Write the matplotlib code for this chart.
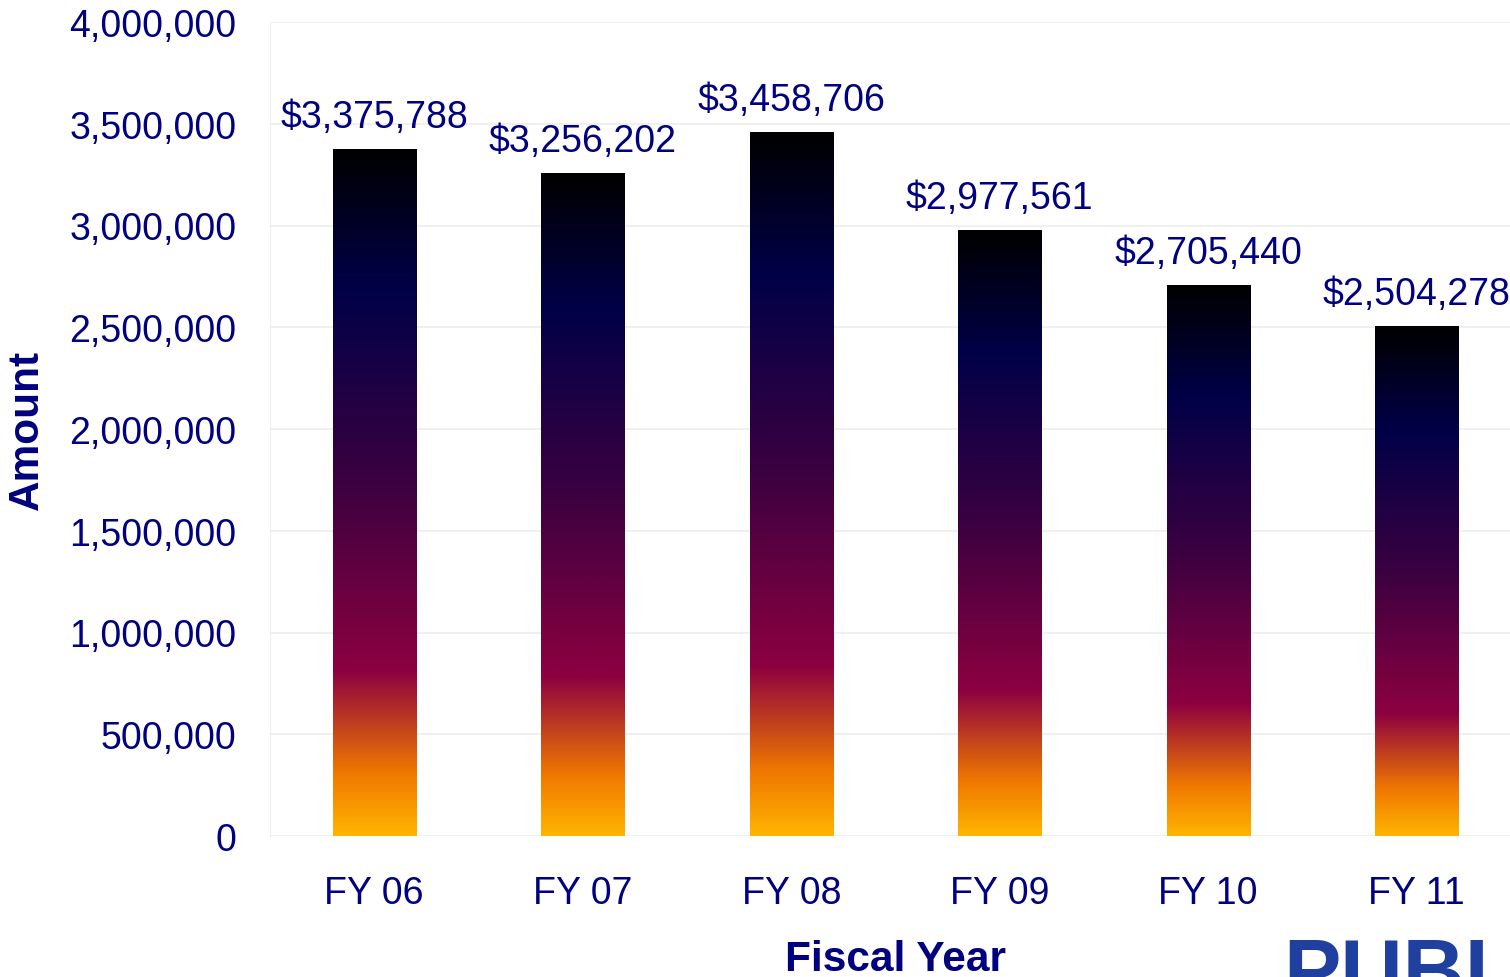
import numpy as np
import matplotlib.pyplot as plt
from matplotlib.colors import LinearSegmentedColormap

years = ['FY 06', 'FY 07', 'FY 08', 'FY 09', 'FY 10', 'FY 11']
amounts = [3375788, 3256202, 3458706, 2977561, 2705440, 2504278]
yticks = [0, 500000, 1000000, 1500000, 2000000, 2500000, 3000000, 3500000, 4000000]

navy = '#000080'
plt.rcParams['font.family'] = ['Liberation Sans', 'DejaVu Sans']

# bottom -> top gradient like the excel fill
grad = LinearSegmentedColormap.from_list('fill', [
    (0.0, '#ffb400'),
    (0.09, '#f07800'),
    (0.24, '#8c0040'),
    (0.52, '#3a0040'),
    (0.80, '#000048'),
    (1.0, '#000000'),
])

fig = plt.figure(figsize=(15.1, 9.78), dpi=100)
ax = fig.add_axes([270 / 1510, 1 - 837 / 978, 1251 / 1510, 814 / 978])

x = np.arange(len(years))
bars = ax.bar(x, amounts, width=0.4, color='none', zorder=2)
g = np.linspace(0, 1, 256).reshape(-1, 1)
for b, v in zip(bars, amounts):
    ax.imshow(g, cmap=grad, origin='lower', aspect='auto', zorder=2,
              extent=[b.get_x(), b.get_x() + b.get_width(), 0, v])
    ax.text(b.get_x() + b.get_width() / 2, v + 70000, '${:,}'.format(v),
            ha='center', va='bottom', fontsize=27, color=navy)

ax.set_xlim(-0.5, len(years) - 0.5)
ax.set_ylim(0, 4000000)
ax.set_yticks(yticks)
ax.set_yticklabels(['{:,}'.format(t) for t in yticks])
ax.set_xticks(x)
ax.set_xticklabels(years)
ax.tick_params(axis='both', length=0, labelsize=27, labelcolor=navy)
ax.tick_params(axis='x', pad=28)
ax.tick_params(axis='y', pad=24)
ax.grid(axis='y', color='#eeeeee', lw=1.2, zorder=0)
for s in ['top', 'right', 'bottom']:
    ax.spines[s].set_visible(False)
ax.spines['left'].set_color('#eeeeee')
ax.set_xlabel('Fiscal Year', fontsize=30.5, fontweight='bold', color=navy, labelpad=20)
ax.set_ylabel('Amount', fontsize=30.5, fontweight='bold', color=navy, labelpad=16)

fig.text(1283 / 1510, -0.04, 'PUBLIC', fontsize=62, fontweight='bold', color='#2040a0',
         ha='left', va='bottom')

fig.savefig('out.png', dpi=100)
